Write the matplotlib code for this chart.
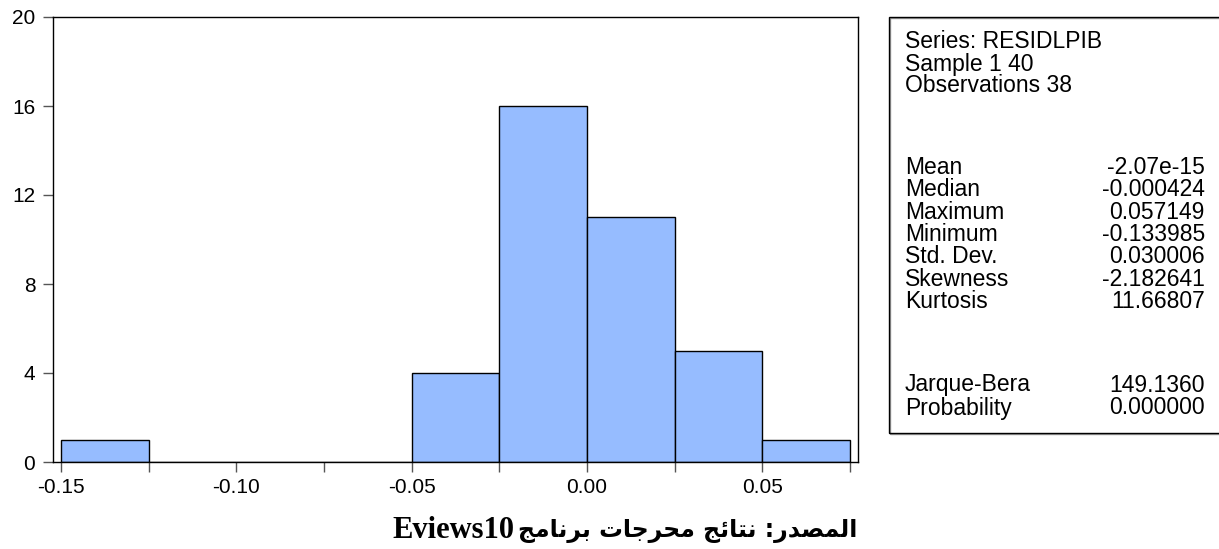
import matplotlib
matplotlib.use("Agg")
import matplotlib.pyplot as plt
from matplotlib.patches import Rectangle
import numpy as np

# histogram of the residuals (bin left edges, width 0.025)
bin_left = [-0.150, -0.125, -0.100, -0.075, -0.050, -0.025, 0.000, 0.025, 0.050]
counts = [1, 0, 0, 0, 4, 16, 11, 5, 1]
bin_width = 0.025

x_ticks = [-0.15, -0.10, -0.05, 0.00, 0.05]
x_minor = [-0.125, -0.075, -0.025, 0.025, 0.075]
y_ticks = [0, 4, 8, 12, 16, 20]

# descriptive statistics panel
header_lines = ["Series: RESIDLPIB", "Sample 1 40", "Observations 38"]
stat_names = ["Mean", "Median", "Maximum", "Minimum", "Std. Dev.", "Skewness", "Kurtosis"]
stat_values = ["-2.07e-15", "-0.000424", "0.057149", "-0.133985", "0.030006", "-2.182641", "11.66807"]
test_names = ["Jarque-Bera", "Probability"]
test_values = ["149.1360", "0.000000"]

# source line: Arabic in presentation forms, visual (left-to-right) order
barnamaj = "\uFE9E\uFEE3\uFE8E\uFEE7\uFEAE\uFE91"
mukhrajat = "\uFE95\uFE8E\uFE9F\uFEAE\uFEA4\uFEE3"
nataij = "\uFE9E\uFE8B\uFE8E\uFE98\uFEE7"
almasdar = "\uFEAD\uFEAA\uFEBC\uFEE4\uFEDF\uFE8D"
source_arabic = barnamaj + " " + mukhrajat + " " + nataij + " :" + almasdar
source_prog = "Eviews10"

W, H = 1219, 549
fig = plt.figure(figsize=(W / 100, H / 100), dpi=100)
plt.rcParams["font.family"] = ["Liberation Sans", "DejaVu Sans"]

ax = fig.add_axes([53 / W, 1 - 462 / H, 805 / W, 445 / H])
ax.bar(bin_left, counts, width=bin_width, align="edge",
       color="#96BCFF", edgecolor="black", linewidth=1.0)

ax.set_xlim(-0.15 - 8 / 3502, 0.075 + 8 / 3502)
ax.set_ylim(0, 20)
ax.set_xticks(x_ticks)
ax.set_xticklabels(["%.2f" % v for v in x_ticks])
ax.set_xticks(x_minor, minor=True)
ax.set_yticks(y_ticks)
ax.tick_params(axis="both", which="both", direction="out", length=7.2,
               width=1, color="#555555", labelsize=15)
ax.tick_params(axis="x", pad=4)
ax.tick_params(axis="y", pad=5.5)
for s in ax.spines.values():
    s.set_linewidth(1.0)
    s.set_color("black")

# statistics box on the right (thin grey shadow under the frame)
fig.patches.append(Rectangle((890 / W, 1 - 434 / H), (W + 10 - 890) / W, 416 / H,
                             transform=fig.transFigure, fill=False,
                             edgecolor="#999999", linewidth=1.0, clip_on=False))
fig.patches.append(Rectangle((889 / W, 1 - 433 / H), (W + 10 - 889) / W, 416 / H,
                             transform=fig.transFigure, fill=False,
                             edgecolor="black", linewidth=1.0, clip_on=False))

def ypos(p):
    return 1 - p / H

fs = 16.5
for i, t in enumerate(header_lines):
    fig.text(905 / W, ypos(42 + 22 * i), t, fontsize=fs, va="center", ha="left")
for i, (n, v) in enumerate(zip(stat_names, stat_values)):
    fig.text(905 / W, ypos(167 + 22.5 * i), n, fontsize=fs, va="center", ha="left")
    fig.text(1205 / W, ypos(167 + 22.5 * i), v, fontsize=fs, va="center", ha="right")
for i, (n, v) in enumerate(zip(test_names, test_values)):
    fig.text(905 / W, ypos(385 + 23 * i), n, fontsize=fs, va="center", ha="left")
    fig.text(1205 / W, ypos(385 + 23 * i), v, fontsize=fs, va="center", ha="right")

fig.text(392 / W, ypos(531), source_prog, fontsize=22, fontweight="bold",
         family="Liberation Serif", ha="left", va="center")
fig.text(857 / W, ypos(531), source_arabic, fontsize=17, fontweight="bold",
         family="DejaVu Sans", ha="right", va="center")

fig.savefig("out.png", dpi=100)
